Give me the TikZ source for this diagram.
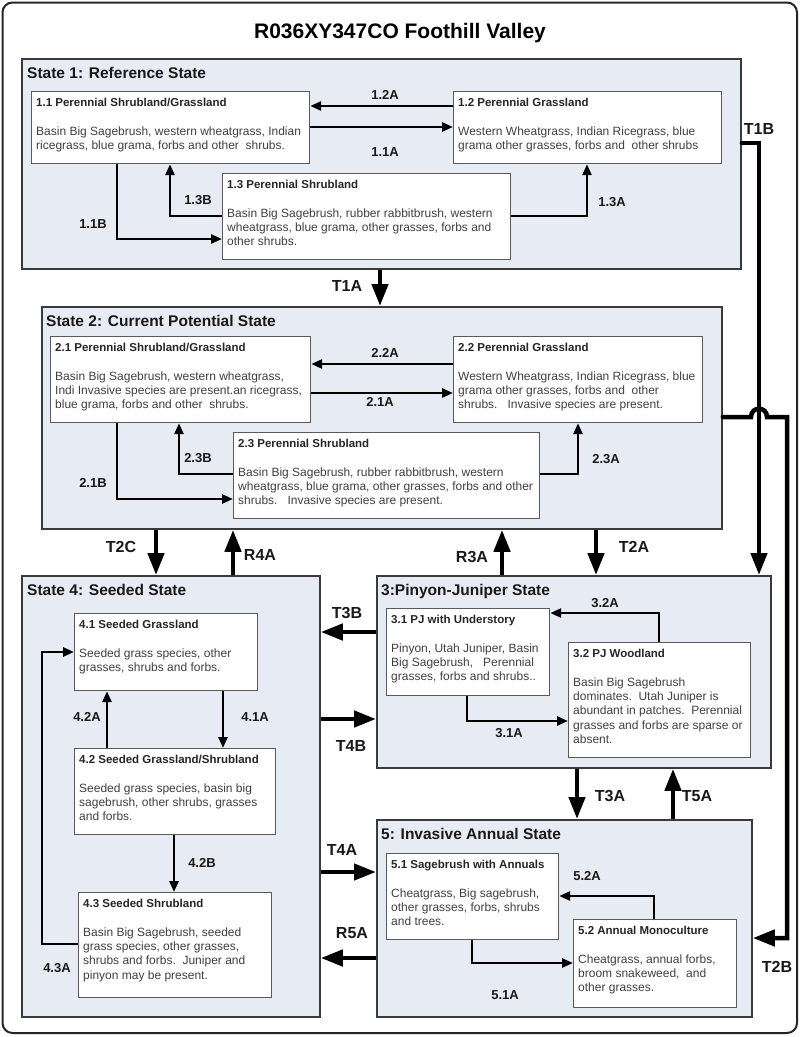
\documentclass[tikz,border=0pt]{standalone}
\usepackage{fontspec}
\setmainfont{Liberation Sans}
\usetikzlibrary{arrows.meta,calc}
\definecolor{statefill}{HTML}{E7EBF3}
\definecolor{stateline}{HTML}{3A3A3A}
\definecolor{boxline}{HTML}{5A5A5A}
\definecolor{bodytext}{HTML}{404040}
\tikzset{
  statebox/.style={draw=stateline, fill=statefill, line width=1.8pt, inner sep=0pt, anchor=north west},
  subbox/.style={draw=boxline, fill=white, line width=1.2pt, inner sep=0pt, anchor=north west},
  boxtext/.style={anchor=north west, inner sep=0pt, align=left, text=bodytext, font=\fontsize{12}{14.3}\selectfont},
  statetitle/.style={anchor=base west, inner sep=0pt, font=\bfseries\fontsize{15.5}{18}\selectfont, text=black!90},
  smalllab/.style={inner sep=0pt, font=\bfseries\fontsize{13}{15}\selectfont, text=black!90},
  biglab/.style={inner sep=0pt, font=\bfseries\fontsize{16}{18}\selectfont, text=black!90},
  thinarrow/.style={line width=2.5pt, -{Triangle[length=11pt,width=9pt]}},
  thickarrow/.style={line width=4.5pt, -{Triangle[length=22pt,width=16pt]}},
}
\newcommand{\bt}[1]{{\bfseries\fontsize{11.5}{14.3}\selectfont\color{black!85}#1}}
\begin{document}
\begin{tikzpicture}[x=1pt,y=-1pt]
\useasboundingbox (0,0) rectangle (800,1037);
\fill[white] (0,0) rectangle (800,1037);
% outer frame
\draw[line width=2pt, draw=black!85, rounded corners=10pt] (2.5,2.5) rectangle (797,1033);
\node[inner sep=0pt, font=\bfseries\fontsize{21}{24}\selectfont] (title) at (400,33) {R036XY347CO Foothill Valley};

% ---------- states ----------
\node[statebox, minimum width=719pt, minimum height=210pt] (s1) at (21,58) {};
\node[statebox, minimum width=680pt, minimum height=222pt] (s2) at (41,306) {};
\node[statebox, minimum width=298pt, minimum height=441pt] (s4) at (21,575) {};
\node[statebox, minimum width=394pt, minimum height=192pt] (s3) at (376,575) {};
\node[statebox, minimum width=375pt, minimum height=197pt] (s5) at (376,819) {};

\node[statetitle] (s1t) at ($(s1.north west)+(6,20)$) {State 1: Reference State};
\node[statetitle] (s2t) at ($(s2.north west)+(5,20)$) {State 2: Current Potential State};
\node[statetitle] (s4t) at ($(s4.north west)+(6,20)$) {State 4: Seeded State};
\node[statetitle] (s3t) at ($(s3.north west)+(5,20)$) {3:Pinyon-Juniper State};
\node[statetitle] (s5t) at ($(s5.north west)+(5,20)$) {5: Invasive Annual State};

% ---------- community boxes ----------
\node[subbox, minimum width=278pt, minimum height=72pt] (b11) at (31,91) {};
\node[subbox, minimum width=268pt, minimum height=72pt] (b12) at (453,91) {};
\node[subbox, minimum width=288pt, minimum height=86pt] (b13) at (222,173) {};
\node[subbox, minimum width=260pt, minimum height=86pt] (b21) at (50,336) {};
\node[subbox, minimum width=249pt, minimum height=86pt] (b22) at (453,336) {};
\node[subbox, minimum width=306pt, minimum height=86pt] (b23) at (233,432) {};
\node[subbox, minimum width=183pt, minimum height=77pt] (b41) at (74,613) {};
\node[subbox, minimum width=201pt, minimum height=86pt] (b42) at (74,748) {};
\node[subbox, minimum width=193pt, minimum height=105pt] (b43) at (78,892) {};
\node[subbox, minimum width=163pt, minimum height=87pt] (b31) at (386,608) {};
\node[subbox, minimum width=182pt, minimum height=115pt] (b32) at (568,642) {};
\node[subbox, minimum width=172pt, minimum height=86pt] (b51) at (386,853) {};
\node[subbox, minimum width=163pt, minimum height=88pt] (b52) at (573,919) {};

\node[boxtext] (b11t) at ($(b11.north west)+(5,7)$) {\bt{1.1 Perennial Shrubland/Grassland}\\ \mbox{}\\Basin Big Sagebrush, western wheatgrass, Indian\\ricegrass, blue grama, forbs and other\ \ shrubs.};
\node[boxtext] (b12t) at ($(b12.north west)+(5,7)$) {\bt{1.2 Perennial Grassland}\\ \mbox{}\\Western Wheatgrass, Indian Ricegrass, blue\\grama other grasses, forbs and\ \ other shrubs};
\node[boxtext] (b13t) at ($(b13.north west)+(5,7)$) {\bt{1.3 Perennial Shrubland}\\ \mbox{}\\Basin Big Sagebrush, rubber rabbitbrush, western\\wheatgrass, blue grama, other grasses, forbs and\\other shrubs.};
\node[boxtext] (b21t) at ($(b21.north west)+(5,7)$) {\bt{2.1 Perennial Shrubland/Grassland}\\ \mbox{}\\Basin Big Sagebrush, western wheatgrass,\\Indi Invasive species are present.an ricegrass,\\blue grama, forbs and other\ \ shrubs.};
\node[boxtext] (b22t) at ($(b22.north west)+(5,7)$) {\bt{2.2 Perennial Grassland}\\ \mbox{}\\Western Wheatgrass, Indian Ricegrass, blue\\grama other grasses, forbs and\ \ other\\shrubs.\ \ \ Invasive species are present.};
\node[boxtext] (b23t) at ($(b23.north west)+(5,7)$) {\bt{2.3 Perennial Shrubland}\\ \mbox{}\\Basin Big Sagebrush, rubber rabbitbrush, western\\wheatgrass, blue grama, other grasses, forbs and other\\shrubs.\ \ \ Invasive species are present.};
\node[boxtext] (b41t) at ($(b41.north west)+(5,7)$) {\bt{4.1 Seeded Grassland}\\ \mbox{}\\Seeded grass species, other\\grasses, shrubs and forbs.};
\node[boxtext] (b42t) at ($(b42.north west)+(5,7)$) {\bt{4.2 Seeded Grassland/Shrubland}\\ \mbox{}\\Seeded grass species, basin big\\sagebrush, other shrubs, grasses\\and forbs.};
\node[boxtext] (b43t) at ($(b43.north west)+(5,7)$) {\bt{4.3 Seeded Shrubland}\\ \mbox{}\\Basin Big Sagebrush, seeded\\grass species, other grasses,\\shrubs and forbs.\ \ Juniper and\\pinyon may be present.};
\node[boxtext] (b31t) at ($(b31.north west)+(5,7)$) {\bt{3.1 PJ with Understory}\\ \mbox{}\\Pinyon, Utah Juniper, Basin\\Big Sagebrush,\ \ \ Perennial\\grasses, forbs and shrubs..};
\node[boxtext] (b32t) at ($(b32.north west)+(5,7)$) {\bt{3.2 PJ Woodland}\\ \mbox{}\\Basin Big Sagebrush\\dominates.\ \ Utah Juniper is\\abundant in patches.\ \ Perennial\\grasses and forbs are sparse or\\absent.};
\node[boxtext] (b51t) at ($(b51.north west)+(5,7)$) {\bt{5.1 Sagebrush with Annuals}\\ \mbox{}\\Cheatgrass, Big sagebrush,\\other grasses, forbs, shrubs\\and trees.};
\node[boxtext] (b52t) at ($(b52.north west)+(5,7)$) {\bt{5.2 Annual Monoculture}\\ \mbox{}\\Cheatgrass, annual forbs,\\broom snakeweed,\ \ and\\other grasses.};

% ---------- state 1 transitions ----------
\draw[thinarrow] (b12.west |- 0,106) -- (b11.east |- 0,106);
\draw[thinarrow] (b11.east |- 0,127) -- (b12.west |- 0,127);
\draw[thinarrow] (b13.west |- 0,216) -| (b11.south -| 170,0);
\draw[thinarrow] (b11.south -| 117,0) |- (b13.west |- 0,239);
\draw[thinarrow] (b13.east |- 0,216) -| (b12.south -| 587,0);
\node[smalllab] (l12a) at (385,95) {1.2A};
\node[smalllab] (l11a) at (385,152) {1.1A};
\node[smalllab] (l13b) at (198,200) {1.3B};
\node[smalllab] (l11b) at (93,224) {1.1B};
\node[smalllab] (l13a) at (612,202) {1.3A};

% ---------- state 2 transitions ----------
\draw[thinarrow] (b22.west |- 0,364) -- (b21.east |- 0,364);
\draw[thinarrow] (b21.east |- 0,393) -- (b22.west |- 0,393);
\draw[thinarrow] (b23.west |- 0,474) -| (b21.south -| 179,0);
\draw[thinarrow] (b21.south -| 117,0) |- (b23.west |- 0,499);
\draw[thinarrow] (b23.east |- 0,474) -| (b22.south -| 578,0);
\node[smalllab] (l22a) at (385,353) {2.2A};
\node[smalllab] (l21a) at (380,402) {2.1A};
\node[smalllab] (l23b) at (198,458) {2.3B};
\node[smalllab] (l21b) at (93,483) {2.1B};
\node[smalllab] (l23a) at (606,459) {2.3A};

% ---------- state 4 transitions ----------
\draw[thinarrow] (b41.south -| 223,0) -- (b42.north -| 223,0);
\draw[thinarrow] (b42.north -| 107,0) -- (b41.south -| 107,0);
\draw[thinarrow] (b42.south -| 174,0) -- (b43.north -| 174,0);
\draw[thinarrow] (b43.west |- 0,944) -| (42,652) -- (b41.west |- 0,652);
\node[smalllab] (l41a) at (255,717) {4.1A};
\node[smalllab] (l42a) at (87,717) {4.2A};
\node[smalllab] (l42b) at (202,863) {4.2B};
\node[smalllab] (l43a) at (57,968) {4.3A};

% ---------- state 3 transitions ----------
\draw[thinarrow] (b32.north -| 659,0) |- (b31.east |- 0,613);
\draw[thinarrow] (b31.south -| 467,0) |- (b32.west |- 0,721);
\node[smalllab] (l32a) at (605,603) {3.2A};
\node[smalllab] (l31a) at (509,733) {3.1A};

% ---------- state 5 transitions ----------
\draw[thinarrow] (b52.north -| 654,0) |- (b51.east |- 0,896);
\draw[thinarrow] (b51.south -| 472,0) |- (b52.west |- 0,963);
\node[smalllab] (l52a) at (587,876) {5.2A};
\node[smalllab] (l51a) at (505,995) {5.1A};

% ---------- state-to-state transitions ----------
\draw[thickarrow] (s1.south -| 380,0) -- (s2.north -| 380,0);
\draw[thickarrow, line cap=round] (s1.east |- 0,143) -| (s3.north -| 759,0);
\draw[thickarrow, line cap=round] (s2.east |- 0,417) -- (751,417) .. controls (751,406) and (767,406) .. (767,417) -- (787,417) -- (787,938) -- (s5.east |- 0,938);
\draw[thickarrow] (s2.south -| 156,0) -- (s4.north -| 156,0);
\draw[thickarrow] (s4.north -| 233,0) -- (s2.south -| 233,0);
\draw[thickarrow] (s3.north -| 502,0) -- (s2.south -| 502,0);
\draw[thickarrow] (s2.south -| 596,0) -- (s3.north -| 596,0);
\draw[thickarrow] (s3.west |- 0,632) -- (s4.east |- 0,632);
\draw[thickarrow] (s4.east |- 0,719) -- (s3.west |- 0,719);
\draw[thickarrow] (s4.east |- 0,872) -- (s5.west |- 0,872);
\draw[thickarrow] (s5.west |- 0,958) -- (s4.east |- 0,958);
\draw[thickarrow] (s3.south -| 577,0) -- (s5.north -| 577,0);
\draw[thickarrow] (s5.north -| 673,0) -- (s3.south -| 673,0);

\node[biglab] (t1a) at (347,286) {T1A};
\node[biglab] (t1b) at (759,129) {T1B};
\node[biglab] (t2c) at (121,547) {T2C};
\node[biglab] (r4a) at (260,555) {R4A};
\node[biglab] (r3a) at (472,557) {R3A};
\node[biglab] (t2a) at (634,547) {T2A};
\node[biglab] (t3b) at (347,613) {T3B};
\node[biglab] (t4b) at (351,746) {T4B};
\node[biglab] (t4a) at (342,850) {T4A};
\node[biglab] (r5a) at (352,933) {R5A};
\node[biglab] (t3a) at (610,796) {T3A};
\node[biglab] (t5a) at (697,796) {T5A};
\node[biglab] (t2b) at (777,967) {T2B};
\end{tikzpicture}
\end{document}
